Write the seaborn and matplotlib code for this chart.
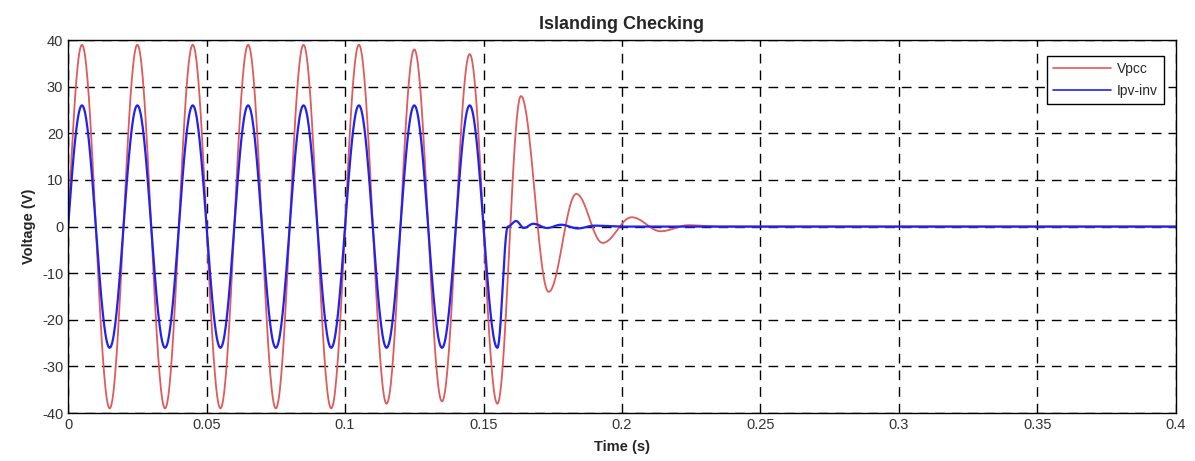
import matplotlib
matplotlib.use("Agg")
import matplotlib.pyplot as plt
import numpy as np
import pandas as pd
import seaborn as sns

# extrema (turning points), seconds / volts
vpcc_times = [-0.005, 0.005, 0.015, 0.025, 0.035, 0.045, 0.055, 0.065, 0.075,
              0.085, 0.095, 0.105, 0.115, 0.125, 0.135, 0.145, 0.155,
              0.1635, 0.1735, 0.1835, 0.193, 0.2035, 0.214, 0.224, 0.235, 0.4]
vpcc_values = [-39, 39, -39, 39, -39, 39, -39, 39, -39,
               39, -39, 39, -38, 38, -37.5, 37, -38,
               28, -14, 7, -3.5, 2, -1, 0.3, 0, 0]

ipv_times = [-0.005, 0.005, 0.015, 0.025, 0.035, 0.045, 0.055, 0.065, 0.075,
             0.085, 0.095, 0.105, 0.115, 0.125, 0.135, 0.145, 0.155,
             0.1588, 0.1618, 0.1645, 0.168, 0.173, 0.178, 0.184, 0.19, 0.2, 0.4]
ipv_values = [-26, 26, -26, 26, -26, 26, -26, 26, -26,
              26, -26, 26, -26, 26, -26, 26, -26,
              0, 1.2, -0.3, 0.6, -0.3, 0.4, -0.4, 0.2, 0, 0]

x_ticks = [0, 0.05, 0.1, 0.15, 0.2, 0.25, 0.3, 0.35, 0.4]
x_labels = ["0", "0.05", "0.1", "0.15", "0.2", "0.25", "0.3", "0.35", "0.4"]
y_ticks = [-40, -30, -20, -10, 0, 10, 20, 30, 40]


def trace(times, values, n=40):
    # join turning points with half-cosine segments (waveform shape)
    ts, ys = [], []
    for t0, t1, v0, v1 in zip(times[:-1], times[1:], values[:-1], values[1:]):
        s = np.linspace(0, 1, n, endpoint=False)
        ts.append(t0 + (t1 - t0) * s)
        ys.append(v0 + (v1 - v0) * (1 - np.cos(np.pi * s)) / 2)
    t = np.concatenate(ts + [[times[-1]]])
    y = np.concatenate(ys + [[values[-1]]])
    keep = t >= 0
    return pd.DataFrame({"t": t[keep], "v": y[keep]})


sns.set_style("white")
plt.rcParams["font.family"] = ["Liberation Sans", "DejaVu Sans"]
plt.rcParams["axes.unicode_minus"] = False

fig = plt.figure(figsize=(11.95, 4.61), dpi=100)
ax = fig.add_axes([0.057, 0.104, 0.927, 0.809])

vpcc = trace(vpcc_times, vpcc_values)
ipv = trace(ipv_times, ipv_values)
sns.lineplot(data=vpcc, x="t", y="v", ax=ax, color="#e05a5a", lw=1.3,
             sort=False, estimator=None, label="Vpcc")
sns.lineplot(data=ipv, x="t", y="v", ax=ax, color="#2222ee", lw=1.6,
             sort=False, estimator=None, label="Ipv-inv")

ax.set_xlim(0, 0.4)
ax.set_ylim(-40, 40)
ax.set_xticks(x_ticks)
ax.set_xticklabels(x_labels)
ax.set_yticks(y_ticks)
ax.tick_params(direction="in", length=4, labelsize=10.5, colors="#333333")
ax.grid(True, color="black", linestyle=(0, (7, 5)), linewidth=1.0)
for sp in ax.spines.values():
    sp.set_color("black")
    sp.set_linewidth(1.0)

ax.set_title("Islanding Checking", fontsize=13, fontweight="bold", pad=8)
ax.set_xlabel("Time (s)", fontsize=10.5, fontweight="bold", labelpad=6)
ax.set_ylabel("Voltage (V)", fontsize=10.5, fontweight="bold", labelpad=4)

leg = ax.legend(loc="upper right", fontsize=10, fancybox=False, framealpha=1,
                edgecolor="black", borderpad=0.45, labelspacing=0.55,
                handlelength=4.2, handletextpad=0.4,
                bbox_to_anchor=(0.9955, 0.977))
leg.get_frame().set_linewidth(1.0)
for line in leg.get_lines():
    line.set_linewidth(1.2)

fig.savefig("out.png", dpi=100)
